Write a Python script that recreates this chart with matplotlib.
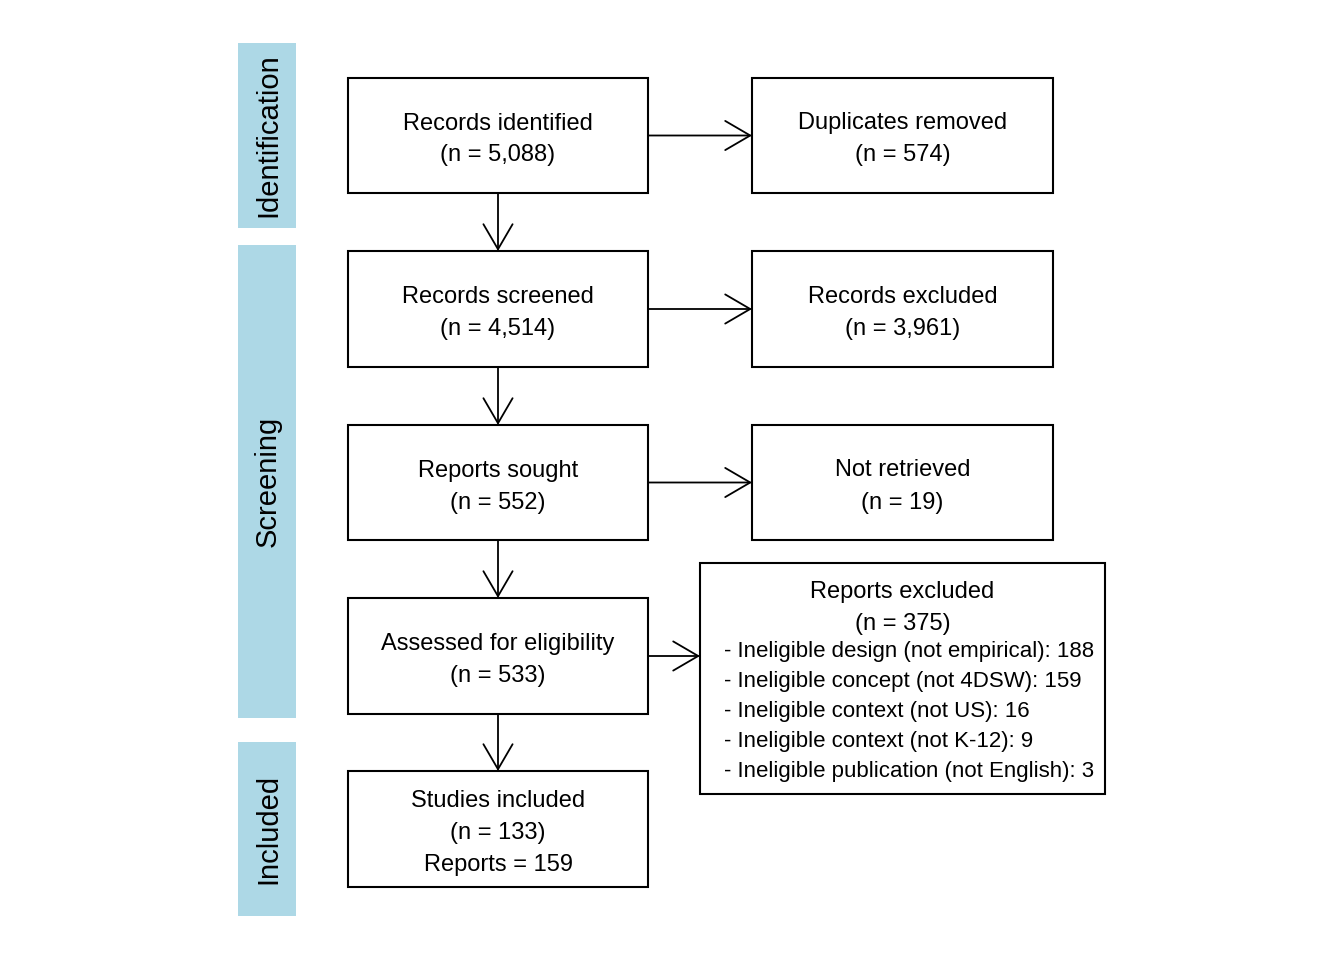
import matplotlib.pyplot as plt
from matplotlib.patches import Rectangle

plt.rcParams['font.family'] = ['Liberation Sans', 'DejaVu Sans']

# box texts
left_texts = [
    ['Records identified', '(n = 5,088)'],
    ['Records screened', '(n = 4,514)'],
    ['Reports sought', '(n = 552)'],
    ['Assessed for eligibility', '(n = 533)'],
    ['Studies included', '(n = 133)', 'Reports = 159'],
]
right_texts = [
    ['Duplicates removed', '(n = 574)'],
    ['Records excluded', '(n = 3,961)'],
    ['Not retrieved', '(n = 19)'],
]
excl_header = ['Reports excluded', '(n = 375)']
excl_reasons = [
    '- Ineligible design (not empirical): 188',
    '- Ineligible concept (not 4DSW): 159',
    '- Ineligible context (not US): 16',
    '- Ineligible context (not K-12): 9',
    '- Ineligible publication (not English): 3',
]
stages = ['Identification', 'Screening', 'Included']

# layout in pixels (top-down)
left_x = (348, 648)
right_x = (752, 1053)
row_y = [(78, 193), (251, 367), (425, 540), (598, 714), (771, 887)]
excl_box = (700, 1105, 563, 794)
stage_y = [(43, 228), (245, 718), (742, 916)]
stage_x = (238, 296)

fig = plt.figure(figsize=(13.44, 9.6), dpi=100)
ax = fig.add_axes([0, 0, 1, 1])
ax.set_xlim(0, 1344)
ax.set_ylim(960, 0)
ax.axis('off')

fs = 17
lw = 1.5
arrow_kw = dict(arrowstyle='->,head_length=1.2,head_width=0.7', mutation_scale=15,
                lw=1.3, color='black', shrinkA=0, shrinkB=0)


def box(x0, x1, y0, y1):
    ax.add_patch(Rectangle((x0, y0), x1 - x0, y1 - y0, fill=False, ec='black', lw=lw))


def lines(cx, cy, txt, gap=32):
    n = len(txt)
    for i, t in enumerate(txt):
        ax.text(cx, cy + 4 + (i - (n - 1) / 2) * gap, t, ha='center', va='center',
                fontsize=fs)


# stage bars
for (y0, y1), name in zip(stage_y, stages):
    ax.add_patch(Rectangle((stage_x[0], y0), stage_x[1] - stage_x[0], y1 - y0,
                           fc='#ADD8E6', ec='none'))
    ax.text(sum(stage_x) / 2 + 1, (y0 + y1) / 2, name, rotation=90, ha='center',
            va='center', fontsize=21)

# left column
lcx = sum(left_x) / 2
for i, ((y0, y1), txt) in enumerate(zip(row_y, left_texts)):
    box(left_x[0], left_x[1], y0, y1)
    lines(lcx, (y0 + y1) / 2, txt)
    if i < len(row_y) - 1:
        ax.annotate('', xy=(lcx, row_y[i + 1][0]), xytext=(lcx, y1), arrowprops=arrow_kw)

# right column
rcx = sum(right_x) / 2
for (y0, y1), txt in zip(row_y, right_texts):
    box(right_x[0], right_x[1], y0, y1)
    lines(rcx, (y0 + y1) / 2, txt)
    ym = (y0 + y1) / 2
    ax.annotate('', xy=(right_x[0], ym), xytext=(left_x[1], ym), arrowprops=arrow_kw)

# reports excluded
ex0, ex1, ey0, ey1 = excl_box
box(ex0, ex1, ey0, ey1)
ax.text((ex0 + ex1) / 2, 592, excl_header[0], ha='center', va='center', fontsize=fs)
ax.text((ex0 + ex1) / 2, 624, excl_header[1], ha='center', va='center', fontsize=fs)
for i, t in enumerate(excl_reasons):
    ax.text(724, 651 + i * 30, t, ha='left', va='center', fontsize=16)
ym = sum(row_y[3]) / 2
ax.annotate('', xy=(ex0, ym), xytext=(left_x[1], ym), arrowprops=arrow_kw)

fig.savefig('out.png', dpi=100)
